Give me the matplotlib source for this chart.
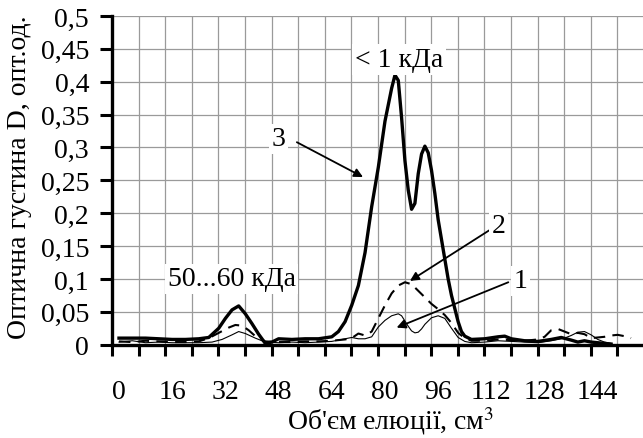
import numpy as np
import matplotlib
matplotlib.use('Agg')
from matplotlib import pyplot as plt

# curve 1 (thin solid)
x1 = [0, 4, 8, 12, 16, 20, 24, 28, 31, 34, 36, 38, 41, 44, 48, 52, 56, 60, 64, 68, 70, 72, 74, 76, 78,
      80, 82, 84, 85, 86, 87, 88, 89, 90, 91, 92, 94, 96, 98, 100, 102, 104, 106, 110, 114, 118, 122,
      126, 130, 134, 136, 138, 140, 142, 144, 146, 148]
y1 = [0.004, 0.006, 0.003, 0.004, 0.003, 0.003, 0.003, 0.004, 0.008, 0.015, 0.020, 0.017, 0.010, 0.004,
      0.003, 0.004, 0.003, 0.004, 0.005, 0.009, 0.011, 0.009, 0.009, 0.012, 0.027, 0.037, 0.044, 0.047,
      0.044, 0.036, 0.028, 0.021, 0.018, 0.019, 0.024, 0.031, 0.041, 0.044, 0.040, 0.025, 0.011, 0.005,
      0.003, 0.004, 0.006, 0.005, 0.004, 0.003, 0.006, 0.010, 0.014, 0.019, 0.020, 0.015, 0.008, 0.004,
      0.002]

# curve 2 (dashed)
x2 = [0, 4, 8, 12, 16, 20, 24, 27, 30, 33, 35, 37, 39, 41, 44, 48, 52, 56, 60, 64, 68, 70, 72, 74, 76,
      78, 80, 82, 84, 86, 88, 90, 92, 94, 96, 98, 100, 102, 104, 106, 110, 114, 118, 122, 126, 128, 130,
      132, 134, 136, 138, 140, 142, 144, 146, 148, 150, 152, 154]
y2 = [0.005, 0.004, 0.006, 0.005, 0.004, 0.004, 0.005, 0.010, 0.018, 0.026, 0.030, 0.029, 0.022, 0.013,
      0.005, 0.004, 0.004, 0.005, 0.005, 0.006, 0.008, 0.010, 0.017, 0.014, 0.020, 0.040, 0.060, 0.078,
      0.090, 0.095, 0.092, 0.082, 0.072, 0.062, 0.054, 0.045, 0.033, 0.018, 0.010, 0.006, 0.006, 0.008,
      0.007, 0.006, 0.008, 0.012, 0.022, 0.024, 0.020, 0.016, 0.018, 0.016, 0.010, 0.011, 0.012, 0.014,
      0.015, 0.013, 0.010]

# curve 3 (thick solid)
x3 = [0, 4, 8, 12, 16, 20, 24, 27, 30, 32, 34, 36, 38, 40, 42, 44, 46, 48, 52, 56, 60, 64, 66, 68, 70,
      72, 74, 76, 78, 80, 82, 83, 84, 85, 86, 87, 88, 89, 90, 91, 92, 93, 94, 95, 96, 97, 98, 99, 100,
      101, 102, 103, 104, 106, 110, 114, 116, 118, 122, 126, 130, 133, 136, 138, 140, 142, 144, 146, 148]
y3 = [0.010, 0.010, 0.010, 0.009, 0.008, 0.008, 0.009, 0.011, 0.025, 0.040, 0.053, 0.059, 0.047, 0.032,
      0.016, 0.002, 0.004, 0.009, 0.008, 0.009, 0.009, 0.012, 0.020, 0.035, 0.060, 0.090, 0.140, 0.210,
      0.270, 0.340, 0.390, 0.410, 0.402, 0.345, 0.280, 0.235, 0.206, 0.215, 0.260, 0.290, 0.302, 0.292,
      0.265, 0.230, 0.190, 0.160, 0.130, 0.100, 0.075, 0.055, 0.035, 0.020, 0.013, 0.008, 0.009, 0.012,
      0.013, 0.009, 0.006, 0.005, 0.008, 0.011, 0.007, 0.004, 0.006, 0.004, 0.003, 0.002, 0.001]

x_labels = [0, 16, 32, 48, 64, 80, 96, 112, 128, 144]
y_ticks = [0, 0.05, 0.1, 0.15, 0.2, 0.25, 0.3, 0.35, 0.4, 0.45, 0.5]

plt.rcParams['font.family'] = ['Liberation Serif', 'DejaVu Serif']
plt.rcParams['mathtext.fontset'] = 'stix'
FS = 20

fig = plt.figure(figsize=(6.43, 4.39), dpi=100)
ax = fig.add_axes([112 / 643, 1 - 345.7 / 439, 531 / 643, (345.7 - 17) / 439])

ax.plot(x1, y1, color='black', lw=0.8, zorder=3)
ax.plot(x2, y2, color='black', lw=1.5, dashes=(5.5, 3.5), zorder=3)
ax.plot(x3, y3, color='black', lw=2.4, zorder=4)

xmin, xmax = -2.1, 157.6
ax.set_xlim(xmin, xmax)
ax.set_ylim(0, 0.5)

# grid / major ticks every 8 units starting at the left edge
ax.set_xticks(np.arange(xmin, xmax, 8))
ax.set_xticklabels([])
ax.set_xticks(x_labels, minor=True)
ax.set_xticklabels([str(v) for v in x_labels], minor=True, fontsize=FS)
ax.tick_params(axis='x', which='major', direction='out', length=8, width=2.2)
ax.tick_params(axis='x', which='minor', length=0, pad=25)

ax.set_yticks(y_ticks)
ax.set_yticklabels([('%g' % v).replace('.', ',') for v in y_ticks], fontsize=FS)
ax.tick_params(axis='y', direction='out', length=8.5, width=2.2, pad=8)

ax.grid(True, which='major', color='#9a9a9a', lw=0.9)
ax.set_axisbelow(True)
for s in ['top', 'right']:
    ax.spines[s].set_visible(False)
ax.spines['left'].set_linewidth(2.4)
ax.spines['bottom'].set_linewidth(2.4)

box = dict(facecolor='white', edgecolor='none', pad=2)
arr = dict(arrowstyle='-|>', color='black', lw=1.3, mutation_scale=13, shrinkA=0, shrinkB=0)

ax.text(84.2, 0.434, '< 1 кДа', fontsize=FS, ha='center', va='center', bbox=box, zorder=5)
ax.text(33.9, 0.100, '50...60 кДа', fontsize=FS, ha='center', va='center', bbox=box, zorder=5)

ax.annotate('', xy=(73.4, 0.255), xytext=(53.5, 0.308), arrowprops=arr, zorder=5)
ax.text(48.0, 0.313, '3', fontsize=FS, ha='center', va='center', bbox=box, zorder=5)

ax.annotate('', xy=(87.5, 0.097), xytext=(112.6, 0.178), arrowprops=arr, zorder=5)
ax.text(114.2, 0.182, '2', fontsize=FS, ha='center', va='center', bbox=box, zorder=5)

ax.annotate('', xy=(83.5, 0.026), xytext=(117.1, 0.095), arrowprops=arr, zorder=5)
ax.text(120.8, 0.097, '1', fontsize=FS, ha='center', va='center', bbox=box, zorder=5)

fig.text(391 / 643, 1 - 421 / 439, "Об'єм елюції, см$^3$", fontsize=FS, ha='center', va='center')
fig.text(20 / 643, 1 - 177 / 439, 'Оптична густина D, опт.од.', fontsize=FS,
         ha='center', va='center', rotation=90)

fig.savefig('out.png', dpi=100)
